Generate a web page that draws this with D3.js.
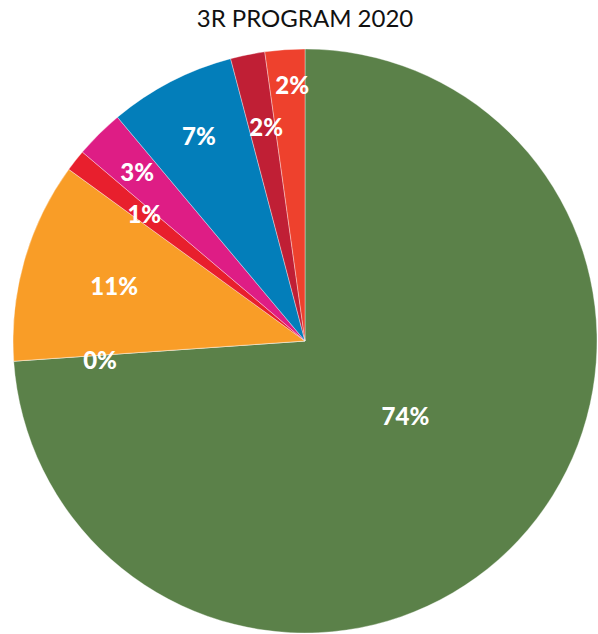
<!DOCTYPE html>
<html>
<head>
<meta charset="utf-8">
<script src="https://cdn.jsdelivr.net/npm/d3@7"></script>
<style>
  html, body { margin: 0; padding: 0; background: #fff; }
  svg { display: block; }
</style>
</head>
<body>
<div id="chart"></div>
<script>
// 3R program 2020 — share of each stream (percent)
const categories = ["Stream A", "Stream B", "Stream C", "Stream D", "Stream E", "Stream F", "Stream G", "Stream H"];
const values = [73.9, 0, 11.1, 1.2, 2.7, 7.0, 1.9, 2.2];
const colors = ["#5B8149", "#9E9E9E", "#F99D27", "#E81F2D", "#DE1D85", "#037EBA", "#C01F35", "#EE412D"];
// label placement: radial position (fraction of radius) and angular nudge (fraction of a turn)
const labelRadius = [0.43, 0.705, 0.68, 0.70, 0.815, 0.79, 0.745, 0.877];
const labelTurn = [-0.017, -0.004, 0, 0, 0, 0, 0.003, 0.003];
const title = "3R PROGRAM 2020";

const width = 598, height = 634;
const cx = 305, cy = 341, radius = 292;

const svg = d3.select("#chart").append("svg")
  .attr("width", width).attr("height", height);

svg.append("text")
  .attr("x", 305).attr("y", 27)
  .attr("text-anchor", "middle")
  .attr("font-family", "Lato, 'Noto Sans', sans-serif")
  .attr("font-size", 24)
  .attr("fill", "#111")
  .text(title);

const data = categories.map((c, i) => ({
  name: c, value: values[i], color: colors[i], lr: labelRadius[i], lt: labelTurn[i]
}));

const pie = d3.pie().sort(null).value(d => d.value);
const arcs = pie(data);
const arc = d3.arc().innerRadius(0).outerRadius(radius);

const g = svg.append("g").attr("transform", `translate(${cx},${cy})`);

g.selectAll("path.slice")
  .data(arcs)
  .join("path")
  .attr("class", "slice")
  .attr("d", arc)
  .attr("fill", d => d.data.color)
  .attr("stroke", "rgba(255,255,255,0.6)")
  .attr("stroke-width", 0.6);

g.selectAll("text.lbl")
  .data(arcs)
  .join("text")
  .attr("class", "lbl")
  .attr("transform", d => {
    const r = d.data.lr * radius;
    const a = (d.startAngle + d.endAngle) / 2 + d.data.lt * 2 * Math.PI;
    return `translate(${Math.sin(a) * r},${-Math.cos(a) * r})`;
  })
  .attr("text-anchor", "middle")
  .attr("dy", "0.36em")
  .attr("font-family", "Lato, 'Noto Sans', sans-serif")
  .attr("font-weight", 900)
  .attr("font-size", 24)
  .attr("fill", "#fff")
  .text(d => Math.round(d.data.value) + "%");
</script>
</body>
</html>
